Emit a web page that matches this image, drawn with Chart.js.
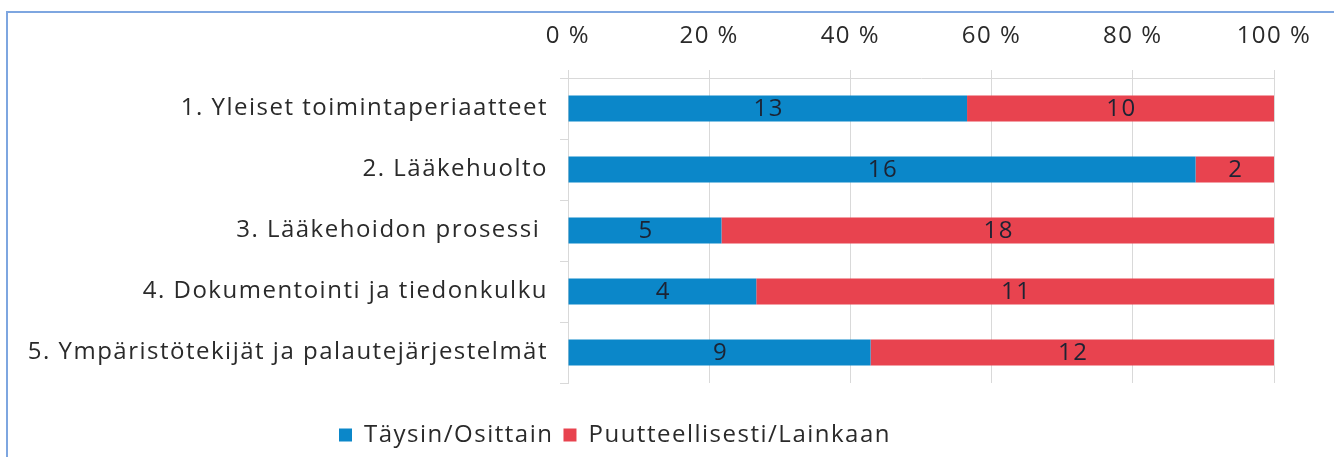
<!DOCTYPE html>
<html>
<head>
<meta charset="utf-8">
<script src="https://cdn.jsdelivr.net/npm/chart.js@4.4.1/dist/chart.umd.min.js"></script>
<style>
    html, body { margin: 0; padding: 0; background: #fff; }
    #wrap { position: relative; width: 1334px; height: 457px; overflow: hidden; }
    #frame {
        position: absolute; left: 6px; top: 11px; width: 1400px; height: 500px;
        border-top: 2px solid #7ea6e0; border-left: 2px solid #7ea6e0;
    }
    canvas { position: absolute; left: 0; top: 0; }
</style>
</head>
<body>
<div id="wrap">
    <div id="frame"></div>
    <canvas id="chart" width="1334" height="457"></canvas>
</div>
<script>
// Chart data
const categories = [
    '1. Yleiset toimintaperiaatteet',
    '2. Lääkehuolto',
    '3. Lääkehoidon prosessi ',
    '4. Dokumentointi ja tiedonkulku',
    '5. Ympäristötekijät ja palautejärjestelmät'
];
const taysinOsittain = [13, 16, 5, 4, 9];
const puutteellisesti = [10, 2, 18, 11, 12];
const xTicks = [0, 20, 40, 60, 80, 100];

const seriesNames = ['Täysin/Osittain', 'Puutteellisesti/Lainkaan'];
const colors = ['#0b87c9', '#e8434f'];

// 100 % stacked: each bar is its count's share of the row total
const totals = taysinOsittain.map((v, i) => v + puutteellisesti[i]);
const toPct = (arr) => arr.map((v, i) => v / totals[i] * 100);
const counts = [taysinOsittain, puutteellisesti];

const FONT = 'Open Sans';
const FONT_SIZE = 24;
const textColor = '#2a2a2a';
const gridColor = '#d9d9d9';

// the scanned original has wide letter spacing
const spacing = {
    id: 'spacing',
    beforeDraw(chart) {
        chart.ctx.letterSpacing = '1.5px';
    }
};

// draws the count in the middle of each segment
const segmentLabels = {
    id: 'segmentLabels',
    afterDatasetsDraw(chart) {
        const ctx = chart.ctx;
        ctx.save();
        ctx.font = `${FONT_SIZE}px "${FONT}"`;
        ctx.fillStyle = '#1c2333';
        ctx.textAlign = 'center';
        ctx.textBaseline = 'middle';
        chart.data.datasets.forEach((ds, di) => {
            const meta = chart.getDatasetMeta(di);
            meta.data.forEach((bar, i) => {
                const x = (bar.x + bar.base) / 2;
                ctx.fillText(String(counts[di][i]), x + 1, bar.y + 1);
            });
        });
        ctx.restore();
    }
};

// legend sits under the labels, not centred on the canvas
const legendShift = {
    id: 'legendShift',
    afterLayout(chart) {
        if (chart.legend) chart.legend.left = 329;
    }
};

new Chart(document.getElementById('chart'), {
    type: 'bar',
    data: {
        labels: categories,
        datasets: [
            {
                label: seriesNames[0],
                data: toPct(taysinOsittain),
                backgroundColor: colors[0],
                barPercentage: 0.43,
                categoryPercentage: 1
            },
            {
                label: seriesNames[1],
                data: toPct(puutteellisesti),
                backgroundColor: colors[1],
                barPercentage: 0.43,
                categoryPercentage: 1
            }
        ]
    },
    options: {
        indexAxis: 'y',
        responsive: false,
        animation: false,
        layout: {
            padding: { left: 0, right: 60, top: 0, bottom: 0 }
        },
        plugins: {
            legend: {
                position: 'bottom',
                align: 'start',
                title: {
                    display: true,
                    text: '',
                    font: { family: FONT, size: 20, lineHeight: 1.2 },
                    padding: { top: 6, bottom: 0 }
                },
                labels: {
                    boxWidth: 13,
                    boxHeight: 13,
                    padding: 10,
                    color: textColor,
                    font: { family: FONT, size: FONT_SIZE }
                }
            },
            tooltip: { enabled: false }
        },
        scales: {
            x: {
                position: 'top',
                stacked: true,
                min: 0,
                max: 100,
                afterBuildTicks: (scale) => {
                    scale.ticks = xTicks.map(v => ({ value: v }));
                },
                afterFit: (scale) => { scale.height = 78; },
                ticks: {
                    padding: 19,
                    color: textColor,
                    font: { family: FONT, size: FONT_SIZE },
                    callback: (value) => value + ' %'
                },
                grid: {
                    color: gridColor,
                    tickLength: 8
                },
                border: { color: gridColor }
            },
            y: {
                stacked: true,
                afterFit: (scale) => { scale.width = 568; },
                ticks: {
                    padding: 12,
                    color: textColor,
                    font: { family: FONT, size: FONT_SIZE }
                },
                grid: {
                    offset: true,
                    drawOnChartArea: false,
                    color: gridColor,
                    tickLength: 8
                },
                border: { color: gridColor }
            }
        }
    },
    plugins: [spacing, segmentLabels, legendShift]
});
</script>
</body>
</html>
